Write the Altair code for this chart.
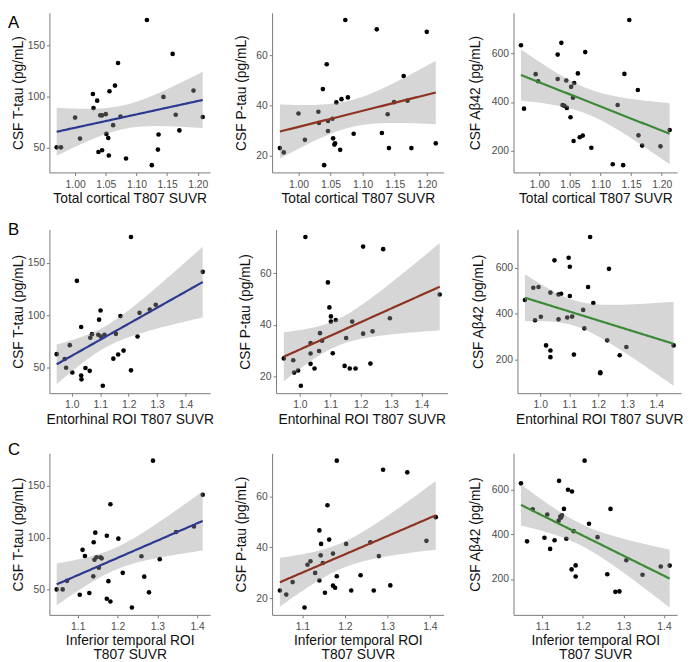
import numpy as np
import pandas as pd
import altair as alt

# ---------------- data ----------------
# Row A: total cortical T807 SUVR
a_ttau_x = [0.970,0.977,1.000,1.008,1.029,1.030,1.036,1.038,1.041,1.044,1.044,1.050,1.051,1.054,1.056,1.055,1.065,1.062,1.070,1.074,1.083,1.117,1.125,1.135,1.136,1.144,1.159,1.164,1.170,1.193,1.208]
a_ttau_y = [50.0,50.0,79.2,58.6,102.3,88.5,95.8,45.4,81.4,81.4,47.2,82.6,63.2,59.2,105.1,42.0,110.6,71.8,132.8,80.2,39.0,174.9,32.5,47.8,62.6,99.5,141.7,82.0,66.6,105.7,79.8]

a_ptau_x = [0.971,0.977,1.000,1.010,1.031,1.032,1.038,1.040,1.044,1.046,1.046,1.053,1.054,1.056,1.057,1.059,1.065,1.067,1.073,1.077,1.086,1.122,1.130,1.139,1.141,1.149,1.164,1.170,1.176,1.200,1.214]
a_ptau_y = [23.1,21.4,36.9,26.4,37.6,33.1,46.6,16.3,56.5,33.9,29.9,34.8,27.0,24.5,25.0,41.3,22.4,42.6,74.1,43.3,28.8,70.4,29.1,36.6,23.1,41.4,51.8,42.0,23.1,69.4,25.0]

a_ab42_x = [0.970,0.975,0.994,0.998,1.030,1.030,1.036,1.038,1.041,1.045,1.044,1.051,1.052,1.055,1.056,1.057,1.063,1.066,1.071,1.075,1.085,1.120,1.128,1.137,1.139,1.147,1.161,1.162,1.168,1.198,1.213]
a_ab42_y = [632,373,514,485,594,494,642,388,385,376,488,338,462,418,241,478,517,256,263,604,213,146,388,142,515,735,449,264,222,219,286]

# Row B: entorhinal ROI T807 SUVR
b_ttau_x = [0.947,0.975,0.980,0.993,1.002,1.018,1.033,1.033,1.034,1.048,1.063,1.065,1.071,1.096,1.101,1.093,1.102,1.109,1.115,1.146,1.155,1.163,1.171,1.182,1.208,1.208,1.231,1.238,1.274,1.295,1.460]
b_ttau_y = [62.9,58.3,50.0,71.5,45.4,132.8,88.8,42.6,38.9,49.7,47.0,78.6,82.0,95.8,104.5,81.4,79.8,32.8,81.4,58.6,82.3,62.6,99.2,66.3,174.6,47.5,79.8,102.3,105.4,110.0,141.4]

b_ptau_x = [0.947,0.978,0.981,0.994,1.003,1.018,1.035,1.035,1.035,1.048,1.066,1.073,1.063,1.092,1.097,1.102,1.102,1.108,1.118,1.147,1.152,1.164,1.172,1.183,1.208,1.208,1.232,1.239,1.274,1.296,1.460]
b_ptau_y = [27.0,26.3,21.5,22.3,16.4,74.1,33.0,28.9,24.9,23.1,36.8,33.9,29.9,56.5,46.8,43.3,41.3,29.0,41.9,24.1,34.9,23.1,41.3,23.1,70.4,36.6,25.0,37.5,69.4,42.6,51.8]

b_ab42_x = [0.947,0.976,0.982,0.994,1.002,1.020,1.035,1.035,1.035,1.049,1.063,1.063,1.072,1.098,1.093,1.102,1.102,1.110,1.116,1.148,1.152,1.165,1.172,1.183,1.207,1.207,1.231,1.237,1.274,1.297,1.460]
b_ab42_y = [460,513,372,516,387,263,492,241,212,632,484,376,487,643,384,604,477,388,223,417,337,516,733,447,146,142,285,595,220,256,263]

# Row C: inferior temporal ROI T807 SUVR
c_ttau_x = [1.047,1.062,1.073,1.105,1.112,1.118,1.129,1.139,1.140,1.142,1.144,1.147,1.157,1.160,1.153,1.173,1.173,1.177,1.182,1.182,1.202,1.213,1.236,1.260,1.267,1.279,1.289,1.306,1.347,1.392,1.414]
c_ttau_y = [50.0,50.0,58.3,44.8,88.2,82.3,46.6,62.6,95.5,78.6,104.8,81.1,81.1,80.0,70.9,101.8,41.0,58.0,132.2,38.3,99.0,66.0,32.5,82.0,62.3,47.2,174.3,79.2,105.4,110.8,141.4]

c_ptau_x = [1.047,1.062,1.077,1.105,1.112,1.119,1.130,1.140,1.140,1.143,1.144,1.148,1.153,1.159,1.163,1.172,1.172,1.177,1.181,1.181,1.203,1.215,1.237,1.260,1.268,1.280,1.290,1.307,1.347,1.392,1.414]
c_ptau_y = [23.0,21.4,26.3,16.3,33.1,34.5,29.9,46.6,26.9,36.8,41.3,33.8,22.1,56.5,43.0,37.5,24.9,24.1,74.0,28.6,41.3,23.0,29.0,41.9,23.0,36.5,70.4,25.0,69.4,42.5,51.8]

c_ab42_x = [1.047,1.062,1.076,1.105,1.112,1.119,1.130,1.141,1.140,1.144,1.146,1.148,1.153,1.159,1.163,1.173,1.172,1.177,1.182,1.182,1.204,1.215,1.236,1.260,1.268,1.280,1.290,1.307,1.347,1.392,1.414]
c_ab42_y = [630,369,513,385,490,335,374,641,462,480,476,486,515,381,601,593,243,415,261,211,732,448,388,221,515,142,144,284,219,256,260]

row_letters = ["A", "B", "C"]
x_titles = ["Total cortical T807 SUVR", "Entorhinal ROI T807 SUVR", ["Inferior temporal ROI", "T807 SUVR"]]
x_ticks = [[1.00, 1.05, 1.10, 1.15, 1.20], [1.0, 1.1, 1.2, 1.3, 1.4], [1.1, 1.2, 1.3, 1.4]]
x_formats = [".2f", ".1f", ".1f"]
y_titles = ["CSF T-tau (pg/mL)", "CSF P-tau (pg/mL)", "CSF Aβ42 (pg/mL)"]
y_ticks = [[50, 100, 150], [20, 40, 60], [200, 400, 600]]
line_colors = ["#2B3A8E", "#8E3321", "#3C8A38"]

panels = [
    [(a_ttau_x, a_ttau_y), (a_ptau_x, a_ptau_y), (a_ab42_x, a_ab42_y)],
    [(b_ttau_x, b_ttau_y), (b_ptau_x, b_ptau_y), (b_ab42_x, b_ab42_y)],
    [(c_ttau_x, c_ttau_y), (c_ptau_x, c_ptau_y), (c_ab42_x, c_ab42_y)],
]

T_CRIT = 2.045  # t(0.975, df = 29)
PANEL_W = [163, 174, 166]
PANEL_H = [162, 166, 164]
Y_EXTENT = [22, 22, 30]
LETTER_Y = [2, -8, -11]
FONT = "Liberation Sans"


def lm_band(xs, ys, n_grid=80):
    x = np.asarray(xs, float)
    y = np.asarray(ys, float)
    n = len(x)
    b1, b0 = np.polyfit(x, y, 1)
    resid = y - (b0 + b1 * x)
    s = np.sqrt(np.sum(resid ** 2) / (n - 2))
    sxx = np.sum((x - x.mean()) ** 2)
    g = np.linspace(x.min(), x.max(), n_grid)
    fit = b0 + b1 * g
    se = s * np.sqrt(1.0 / n + (g - x.mean()) ** 2 / sxx)
    return pd.DataFrame({"x": g, "fit": fit, "lo": fit - T_CRIT * se, "hi": fit + T_CRIT * se})


def expand(lo, hi, f=0.05):
    r = hi - lo
    return [lo - f * r, hi + f * r]


def panel(r, c):
    xs, ys = panels[r][c]
    pts = pd.DataFrame({"x": xs, "y": ys})
    band = lm_band(xs, ys)
    xdom = expand(min(xs), max(xs))
    ydom = expand(min(min(ys), band["lo"].min()), max(max(ys), band["hi"].max()))

    xscale = alt.Scale(domain=xdom, nice=False, zero=False)
    yscale = alt.Scale(domain=ydom, nice=False, zero=False)
    xaxis = alt.Axis(values=x_ticks[r], format=x_formats[r], title=x_titles[r],
                     labelPadding=4, titlePadding=2, titleLineHeight=14)
    yaxis = alt.Axis(values=y_ticks[c], title=y_titles[c],
                     minExtent=Y_EXTENT[c], maxExtent=Y_EXTENT[c])

    p = alt.Chart(pts).mark_circle(size=22, color="black", opacity=1).encode(
        x=alt.X("x:Q", scale=xscale, axis=xaxis),
        y=alt.Y("y:Q", scale=yscale, axis=yaxis),
    )
    b = alt.Chart(band).mark_area(color="#999999", opacity=0.4).encode(
        x="x:Q", y="lo:Q", y2="hi:Q"
    )
    l = alt.Chart(band).mark_line(color=line_colors[c], strokeWidth=2.2).encode(
        x="x:Q", y="fit:Q"
    )
    layers = [p, b, l]
    if c == 0:
        t = alt.Chart(pd.DataFrame({"t": [row_letters[r]]})).mark_text(
            font=FONT, fontSize=17, align="left", baseline="top", color="black"
        ).encode(x=alt.value(-42), y=alt.value(LETTER_Y[r]), text="t:N")
        layers.append(t)
    return alt.layer(*layers).properties(width=PANEL_W[c], height=PANEL_H[r])


rows = [alt.hconcat(*[panel(r, c) for c in range(3)], spacing=25) for r in range(3)]
chart = alt.vconcat(*rows, spacing=15).properties(
    padding={"left": 0, "top": 0, "right": 0, "bottom": 0}
).configure_view(stroke=None).configure_axis(
    grid=False,
    labelFont=FONT,
    titleFont=FONT,
    labelFontSize=10.5,
    titleFontSize=14,
    titleFontWeight="normal",
    labelColor="#4D4D4D",
    titleColor="#111111",
    domainColor="#7A7A7A",
    tickColor="#7A7A7A",
    domainWidth=1,
    tickSize=3,
    labelPadding=2,
    titlePadding=2,
)

chart.save("out.html", embed_options={"renderer": "svg", "actions": False})
